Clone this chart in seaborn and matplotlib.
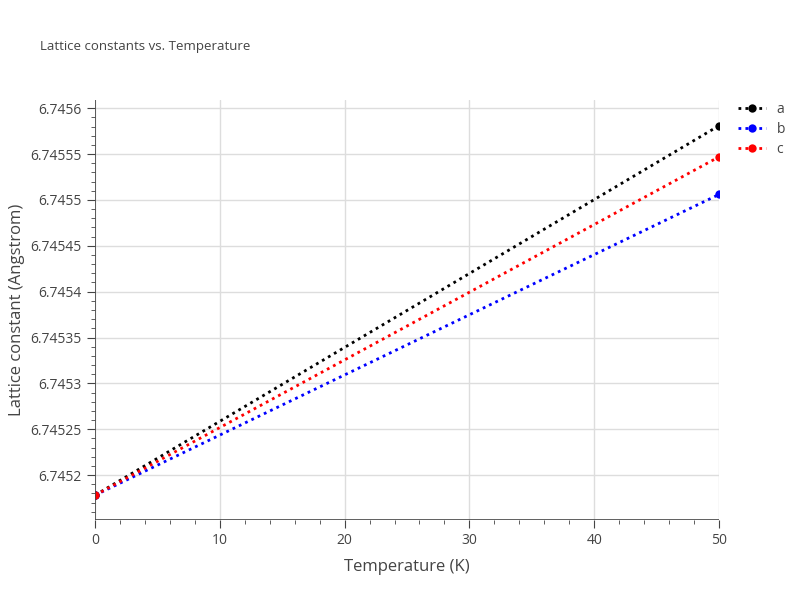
import matplotlib
matplotlib.use("Agg")
import matplotlib.pyplot as plt
import seaborn as sns
import pandas as pd
from matplotlib.ticker import MultipleLocator, FuncFormatter

temperature = [0, 50]
a_vals = [6.745178, 6.745581]
b_vals = [6.745178, 6.745506]
c_vals = [6.745178, 6.745547]
series_names = ["a", "b", "c"]
colors = {"a": "black", "b": "blue", "c": "red"}

df = pd.DataFrame({
    "T": temperature * 3,
    "val": a_vals + b_vals + c_vals,
    "series": ["a"] * 2 + ["b"] * 2 + ["c"] * 2,
})

sns.set_style("white")
plt.rcParams['font.family'] = ['Open Sans', 'DejaVu Sans']
fig = plt.figure(figsize=(8, 6), dpi=100)
ax = fig.add_axes([95/800, 80/600, 624/800, 420/600])
sns.lineplot(data=df, x="T", y="val", hue="series", palette=colors, ax=ax,
             linestyle=(0, (1, 1.5)), linewidth=2, marker="o", markersize=6,
             markeredgewidth=0)
ax.set_xlim(0, 50)
ax.set_ylim(6.745151, 6.745609)
ax.xaxis.set_major_locator(MultipleLocator(10))
ax.yaxis.set_major_locator(MultipleLocator(0.00005))
ax.yaxis.set_minor_locator(MultipleLocator(0.00001))
ax.yaxis.set_major_formatter(FuncFormatter(lambda v, p: f"{v:.6f}".rstrip("0")))
ax.grid(True, which="major", color="#dddddd", linewidth=1)
for s in ax.spines.values():
    s.set_visible(False)
ax.axhline(6.745151, color="#444444", linewidth=1.2)
ax.axvline(0, color="#444444", linewidth=1.2)
ax.tick_params(axis="both", colors="#444444", labelcolor="#444444", labelsize=10)
ax.tick_params(axis="y", which="major", length=6, left=True, direction="out")
ax.tick_params(axis="y", which="minor", length=3, left=True, color="#444444")
ax.tick_params(axis="x", length=6, bottom=True)
ax.xaxis.set_minor_locator(MultipleLocator(2))
ax.tick_params(axis="x", which="minor", length=3, bottom=True, color="#444444")
ax.set_xlabel("Temperature (K)", color="#444444", fontsize=12, labelpad=8)
ax.set_ylabel("Lattice constant (Angstrom)", color="#444444", fontsize=12)
fig.text(40/800, 1 - 50/600, "Lattice constants vs. Temperature", fontsize=9.5, color="#444444")
leg = ax.legend(loc="upper left", bbox_to_anchor=(1.01, 1.025), frameon=False, fontsize=10,
                handlelength=2, labelspacing=0.35)
for t in leg.get_texts():
    t.set_color("#444444")
fig.savefig("out.png", dpi=100)
